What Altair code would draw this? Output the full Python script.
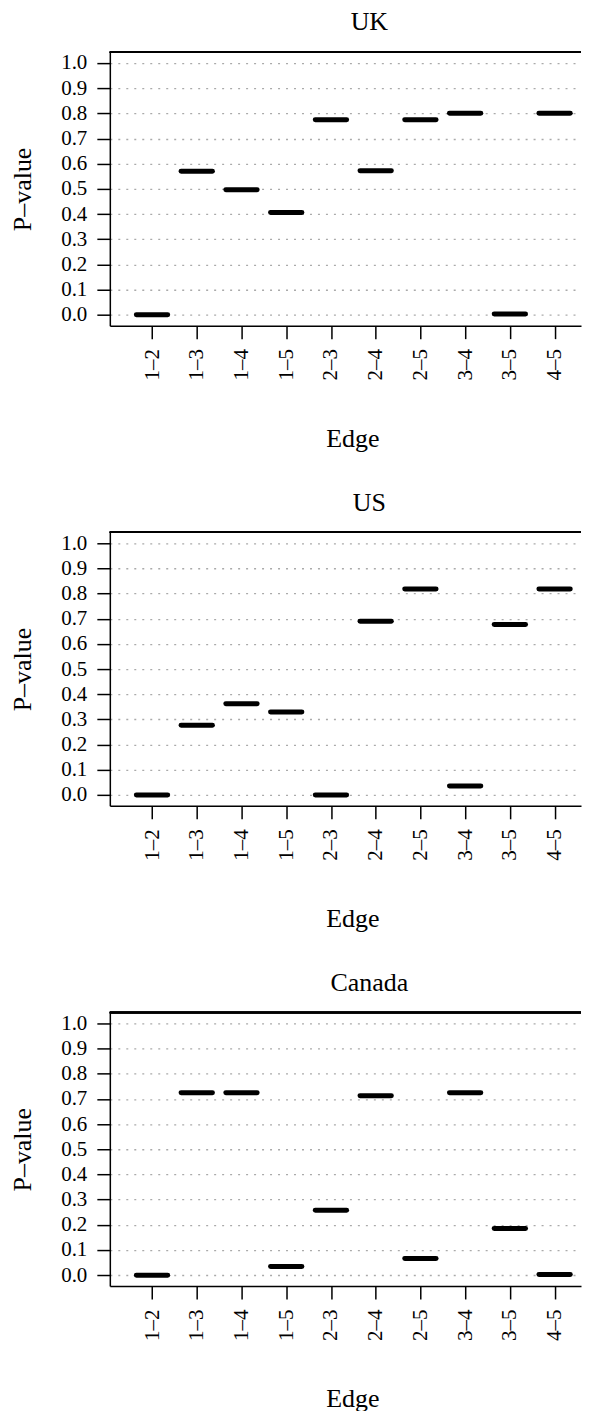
import altair as alt
import pandas as pd

edges = ["1–2", "1–3", "1–4", "1–5", "2–3", "2–4", "2–5", "3–4", "3–5", "4–5"]
countries = ["UK", "US", "Canada"]
uk_p = [0.0, 0.57, 0.497, 0.406, 0.775, 0.572, 0.775, 0.80, 0.003, 0.80]
us_p = [0.0, 0.277, 0.362, 0.33, 0.0, 0.69, 0.818, 0.036, 0.677, 0.818]
ca_p = [0.0, 0.724, 0.724, 0.034, 0.258, 0.712, 0.066, 0.724, 0.185, 0.003]
y_ticks = [0.0, 0.1, 0.2, 0.3, 0.4, 0.5, 0.6, 0.7, 0.8, 0.9, 1.0]

FONT = "Liberation Serif"
W = 472
H = 274
label_expr = "[" + ",".join("'" + e + "'" for e in edges) + "][datum.value - 1]"


def panel(name, vals):
    df = pd.DataFrame({"idx": list(range(1, len(edges) + 1)), "edge": edges, "p": vals})
    base = alt.Chart(df)
    xsc = alt.Scale(domain=[0.056, 10.59], nice=False, zero=False)
    ysc = alt.Scale(domain=[-0.043, 1.043], nice=False, zero=False)
    bars = base.transform_calculate(
        x0="datum.idx - 0.35", x1="datum.idx + 0.35"
    ).mark_rule(strokeWidth=5, strokeCap="round", color="black").encode(
        x=alt.X(
            "x0:Q",
            scale=xsc,
            axis=alt.Axis(
                values=list(range(1, len(edges) + 1)),
                labelExpr=label_expr,
                labelAngle=270,
                labelAlign="right",
                labelBaseline="middle",
                labelPadding=10,
                labelFont=FONT,
                grid=False,
                title="Edge",
                titleFont=FONT,
                titleX=243,
                titleY=121,
                titleBaseline="alphabetic",
                titleAlign="center",
            ),
        ),
        x2="x1:Q",
        y=alt.Y(
            "p:Q",
            scale=ysc,
            axis=alt.Axis(
                values=y_ticks,
                format=".1f",
                grid=True,
                gridDash=[2, 6],
                gridColor="#aaaaaa",
                gridWidth=1.3,
                labelPadding=10,
                labelFont=FONT,
                title="P–value",
                titleFont=FONT,
                titleX=-87,
                titleBaseline="middle",
                titleAngle=270,
            ),
        ),
    )
    top = base.mark_rule(color="black", strokeWidth=1.5).encode(
        x=alt.value(0), x2=alt.value(W), y=alt.value(0)
    )
    return alt.layer(bars, top).properties(
        width=W,
        height=H,
        title=alt.TitleParams(name, dx=24, offset=-5, baseline="alphabetic", font=FONT),
    )


chart = alt.vconcat(
    panel(countries[0], uk_p),
    panel(countries[1], us_p),
    panel(countries[2], ca_p),
    spacing=38,
).properties(
    padding={"left": 2, "top": 0, "right": 0, "bottom": 0}
).configure(font=FONT).configure_view(stroke=None).configure_axis(
    domainColor="black",
    domainWidth=1.5,
    tickColor="black",
    tickWidth=1.5,
    tickSize=13,
    labelFont=FONT,
    labelFontSize=21,
    labelColor="black",
    titleFont=FONT,
    titleFontSize=26,
    titleFontWeight="normal",
    titleColor="black",
).configure_title(
    font=FONT, fontSize=26, fontWeight="normal", color="black", anchor="middle"
)

chart.save("out.html", embed_options={"renderer": "svg", "actions": False})
